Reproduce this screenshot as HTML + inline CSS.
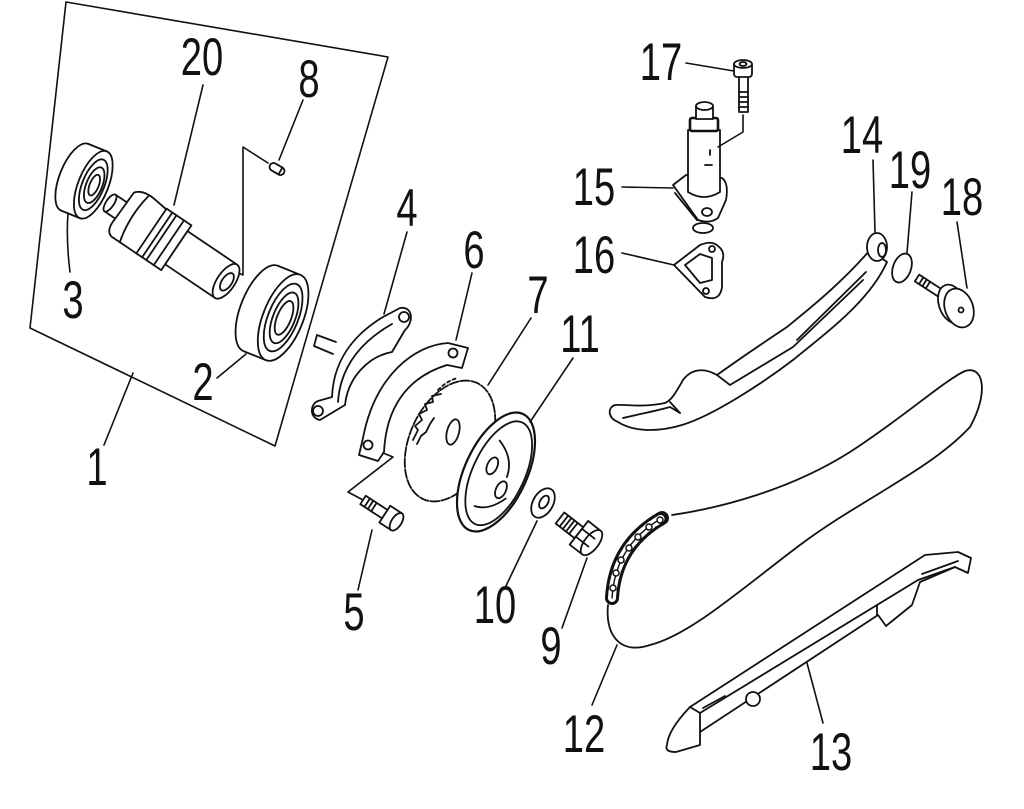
<!DOCTYPE html>
<html><head><meta charset="utf-8"><style>
html,body{margin:0;padding:0;background:#fff;}
svg{display:block;}
text{font-family:"Liberation Sans",sans-serif;font-size:53px;fill:#111;text-anchor:middle;}
</style></head><body>
<svg width="1024" height="809" viewBox="0 0 1024 809" xmlns="http://www.w3.org/2000/svg">
<rect width="1024" height="809" fill="#fff"/>
<g fill="none" stroke="#111" stroke-width="1.8" stroke-linejoin="round" stroke-linecap="round">

<!-- Frame of part 1 -->
<polygon points="66,2 388,57 275,446 30,328" stroke-width="1.6"/>
<line x1="133" y1="373" x2="104" y2="445" stroke-width="1.6"/>

<!-- Leaders in box -->
<line x1="203" y1="85" x2="174" y2="205" stroke-width="1.6"/>
<line x1="303" y1="100" x2="279" y2="160" stroke-width="1.6"/>
<polyline points="268,163 243,147 243,275 236,272" stroke-width="1.6"/>
<path d="M68,213 Q66,240 70,272" stroke-width="1.6"/>
<line x1="217" y1="378" x2="246" y2="354" stroke-width="1.6"/>

<!-- pin 8 -->
<g transform="translate(277,169) rotate(30)">
<rect x="-8" y="-4" width="16" height="8" rx="4" fill="#fff"/>
<line x1="4" y1="-4" x2="4" y2="4"/>
</g>

<!-- Bearing 3 -->
<g transform="translate(84,181) rotate(22)">
<ellipse cx="-10" cy="0" rx="15" ry="36" fill="#fff"/>
<rect x="-10" y="-36" width="20" height="72" fill="#fff" stroke="none"/>
<line x1="-10" y1="-36" x2="10" y2="-36"/>
<line x1="-10" y1="36" x2="10" y2="36"/>
<ellipse cx="10" cy="0" rx="15" ry="36" fill="#fff"/>
<ellipse cx="10" cy="0" rx="11" ry="27"/>
<ellipse cx="11" cy="0" rx="8" ry="19"/>
<ellipse cx="11" cy="0" rx="4.5" ry="11"/>
</g>

<!-- Camshaft 20 -->
<g transform="translate(110,203) rotate(34)">
<rect x="0" y="-10" width="16" height="20" fill="#fff"/>
<ellipse cx="0" cy="0" rx="4" ry="10" fill="#fff"/>
<path d="M14,-22 Q20,-30 36,-28 L52,-26 L52,27 L20,27 Q12,25 13,12 Z" fill="#fff"/>
<path d="M28,-27 Q23,0 30,27"/>
<rect x="50" y="-27" width="30" height="54" fill="#fff"/>
<line x1="57" y1="-27" x2="57" y2="27"/>
<line x1="62" y1="-27" x2="62" y2="27"/>
<line x1="71" y1="-27" x2="71" y2="27"/>
<rect x="80" y="-20" width="60" height="40" fill="#fff"/>
<ellipse cx="140" cy="0" rx="9" ry="20" fill="#fff"/>
<ellipse cx="141" cy="0" rx="5" ry="10"/>
</g>

<!-- Bearing 2 -->
<g transform="translate(272,313) rotate(22)">
<ellipse cx="-12" cy="0" rx="20" ry="46" fill="#fff"/>
<rect x="-12" y="-46" width="24" height="92" fill="#fff" stroke="none"/>
<line x1="-12" y1="-46" x2="12" y2="-46"/>
<line x1="-12" y1="46" x2="12" y2="46"/>
<ellipse cx="12" cy="0" rx="20" ry="46" fill="#fff"/>
<ellipse cx="12" cy="0" rx="15" ry="36"/>
<ellipse cx="13" cy="0" rx="11" ry="27"/>
<ellipse cx="13" cy="0" rx="7" ry="18"/>
</g>

<!-- Part 4 bracket -->
<path d="M333,354 L314,346 L317,335 L336,342" fill="#fff"/>
<path d="M320,420 C309,418 310,404 318,401 L332,397 C333,370 345,340 383,317 L400,308 C413,306 414,322 405,330 L392,352 C370,356 348,376 345,405 Z" fill="#fff"/>
<path d="M338,402 C340,372 355,345 392,324"/>
<circle cx="318" cy="411" r="5"/>
<circle cx="404" cy="317" r="5"/>
<line x1="407" y1="232" x2="384" y2="314" stroke-width="1.6"/>

<!-- Part 6 ring -->
<path d="M448,343 C415,345 375,375 363,438 L359,455 L378,461 L384,452 C386,410 405,378 447,365 L462,368 L468,348 Z" fill="#fff"/>
<circle cx="453" cy="353" r="4.5"/>
<circle cx="368" cy="445" r="4.5"/>
<line x1="472" y1="273" x2="456" y2="340" stroke-width="1.6"/>
<polyline points="383,453 393,457 348,492 363,500" stroke-width="1.6"/>

<!-- Bolt 5 -->
<g transform="translate(363,500) rotate(33)">
<rect x="0" y="-5" width="26" height="10" fill="#fff"/>
<line x1="5" y1="-5" x2="5" y2="5"/><line x1="9" y1="-5" x2="9" y2="5"/><line x1="13" y1="-5" x2="13" y2="5"/>
<rect x="26" y="-10" width="14" height="20" fill="#fff"/>
<ellipse cx="40" cy="0" rx="5" ry="10" fill="#fff"/>
</g>
<line x1="358" y1="590" x2="372" y2="530" stroke-width="1.6"/>

<!-- Part 7 disc -->
<ellipse cx="450" cy="441" rx="40" ry="64" transform="rotate(25 450 441)" fill="#fff" stroke-dasharray="9 2"/>
<polyline points="413,440 418,430 415,426 422,420 419,414 427,410 425,404 433,402 432,396 441,394"/>
<polyline points="417,444 421,436 426,432 430,424 434,418"/>
<ellipse cx="453" cy="432" rx="6" ry="13" transform="rotate(15 453 432)"/>
<path d="M438,390 Q448,380 458,378" stroke-dasharray="3 3"/>
<line x1="531" y1="318" x2="488" y2="385" stroke-width="1.6"/>

<!-- Part 11 plate -->
<g transform="translate(496,472) rotate(25)">
<ellipse cx="0" cy="0" rx="31" ry="64" fill="#fff" stroke-width="2.2"/>
<ellipse cx="3" cy="0" rx="26" ry="56"/>
<ellipse cx="-6" cy="-4" rx="5" ry="9"/>
<ellipse cx="12" cy="14" rx="5" ry="9"/>
<path d="M-10,-30 Q10,-20 12,0"/>
<path d="M-5,40 Q10,38 20,20"/>
</g>
<line x1="573" y1="358" x2="530" y2="422" stroke-width="1.6"/>

<!-- Washer 10 -->
<ellipse cx="543" cy="503" rx="10" ry="16" transform="rotate(30 543 503)" fill="#fff"/>
<ellipse cx="544" cy="502" rx="4" ry="7" transform="rotate(30 544 502)"/>
<line x1="505" y1="588" x2="537" y2="521" stroke-width="1.6"/>

<!-- Bolt 9 -->
<g transform="translate(560,518) rotate(38)">
<rect x="0" y="-7" width="24" height="14" fill="#fff"/>
<line x1="5" y1="-7" x2="5" y2="7"/><line x1="9" y1="-7" x2="9" y2="7"/><line x1="13" y1="-7" x2="13" y2="7"/><line x1="17" y1="-7" x2="17" y2="7"/>
<rect x="24" y="-15" width="16" height="30" fill="#fff"/>
<ellipse cx="40" cy="0" rx="7" ry="15" fill="#fff"/>
<line x1="24" y1="-5" x2="40" y2="-5"/><line x1="24" y1="5" x2="40" y2="5"/>
</g>
<line x1="562" y1="628" x2="587" y2="558" stroke-width="1.6"/>

<!-- Chain 12 -->
<path d="M672,515 C720,508 790,490 850,452 C900,420 945,380 965,371 C985,365 988,395 970,427 C930,470 860,500 800,545 C740,590 690,635 650,645 C620,655 605,635 608,605"/>
<path d="M612,598 Q615,545 662,518" stroke-width="14"/>
<path d="M612,598 Q615,545 662,518" stroke="#fff" stroke-width="8" stroke-dasharray="7 3"/>
<path d="M612,598 Q615,545 662,518" stroke-width="1.4"/>
<g fill="#fff" stroke-width="1.5">
<circle cx="613" cy="588" r="3"/><circle cx="616" cy="573" r="3"/><circle cx="621" cy="560" r="3"/><circle cx="629" cy="548" r="3"/><circle cx="638" cy="537" r="3"/><circle cx="649" cy="527" r="3"/><circle cx="660" cy="520" r="3"/>
</g>
<line x1="617" y1="645" x2="592" y2="705" stroke-width="1.6"/>

<!-- Guide 13 -->
<path d="M667,745 Q668,730 690,707 L925,555 L958,552 L971,558 L968,573 L955,567 L920,582 L912,605 L886,626 L878,615 L700,732 L700,745 L676,752 Q664,752 667,745 Z" fill="#fff"/>
<line x1="700" y1="713" x2="918" y2="580"/>
<polyline points="690,707 700,713 700,732"/>
<line x1="918" y1="580" x2="955" y2="567"/>
<line x1="922" y1="574" x2="958" y2="561"/>
<line x1="877" y1="615" x2="877" y2="605"/>
<line x1="703" y1="708" x2="725" y2="696"/>
<circle cx="753" cy="699" r="7" fill="#fff"/>
<line x1="823" y1="723" x2="807" y2="663" stroke-width="1.6"/>

<!-- Arm 14 -->
<path d="M870,250 C840,285 805,312 787,327 C760,345 735,362 717,375 C705,368 692,368 683,380 C676,392 672,400 665,403 C640,408 625,404 615,405 C607,408 608,418 618,422 C632,431 655,433 682,425 C712,416 760,385 793,360 C830,330 870,300 887,262 Z" fill="#fff"/>
<path d="M717,375 L730,385 L793,347 L863,280"/>
<path d="M797,340 L866,272"/>
<path d="M623,418 C640,414 660,410 670,407 L680,413"/>
<path d="M670,402 L680,413"/>
<ellipse cx="877" cy="247" rx="10" ry="14" fill="#fff"/>
<ellipse cx="882" cy="250" rx="4" ry="7"/>
<line x1="873" y1="160" x2="875" y2="232" stroke-width="1.6"/>

<!-- O-ring 19 -->
<ellipse cx="902" cy="268" rx="9" ry="15" transform="rotate(20 902 268)"/>
<line x1="912" y1="192" x2="907" y2="253" stroke-width="1.6"/>

<!-- Pin 18 -->
<g transform="translate(917,278) rotate(33)">
<rect x="0" y="-4" width="28" height="8" fill="#fff"/>
<line x1="5" y1="-4" x2="5" y2="4"/><line x1="9" y1="-4" x2="9" y2="4"/><line x1="13" y1="-4" x2="13" y2="4"/>
</g>
<ellipse cx="952" cy="304" rx="13" ry="20" transform="rotate(-20 952 304)" fill="#fff"/>
<ellipse cx="959" cy="308" rx="14" ry="20" transform="rotate(-20 959 308)" fill="#fff"/>
<circle cx="961" cy="310" r="2.5"/>
<line x1="957" y1="222" x2="967" y2="288" stroke-width="1.6"/>

<!-- Tensioner 15 -->
<path d="M673,185 L686,175 L722,178 Q729,183 726,200 L718,218 Q710,224 698,220 Z" fill="#fff"/>
<path d="M675,193 L697,220"/>
<ellipse cx="703" cy="228" rx="10" ry="5" fill="#fff"/>
<ellipse cx="707" cy="212" rx="5" ry="4"/>
<path d="M688,130 L688,192 Q704,202 720,192 L720,130 Z" fill="#fff"/>
<rect x="690" y="118" width="28" height="13" rx="2" fill="#fff" stroke-width="2.6"/>
<rect x="696" y="106" width="17" height="13" fill="#fff"/>
<ellipse cx="704.5" cy="106" rx="8.5" ry="4" fill="#fff"/>
<line x1="710" y1="150" x2="710" y2="155"/><line x1="705" y1="165" x2="712" y2="165"/>
<line x1="622" y1="187" x2="673" y2="188" stroke-width="1.6"/>
<polyline points="743,115 743,132 718,147" stroke-width="1.6"/>

<!-- Bolt 17 -->
<rect x="739" y="76" width="9" height="36" fill="#fff"/>
<line x1="739" y1="92" x2="748" y2="92"/><line x1="739" y1="97" x2="748" y2="97"/><line x1="739" y1="102" x2="748" y2="102"/><line x1="739" y1="107" x2="748" y2="107"/>
<rect x="734" y="62" width="18" height="15" rx="3" fill="#fff"/>
<ellipse cx="743" cy="64" rx="9" ry="4" fill="#fff"/>
<ellipse cx="743" cy="64" rx="3.5" ry="2"/>
<line x1="686" y1="63" x2="734" y2="71" stroke-width="1.6"/>

<!-- Gasket 16 -->
<path d="M674,265 L700,245 Q712,240 718,246 Q726,252 722,262 L722,287 Q720,302 705,297 Z" fill="#fff"/>
<path d="M685,265 L700,254 L712,258 L712,280 L700,283 Z"/>
<circle cx="712" cy="249" r="3"/>
<circle cx="706" cy="291" r="3"/>
<line x1="622" y1="253" x2="674" y2="265" stroke-width="1.6"/>
</g>

<!-- Labels -->
<text transform="translate(202,75) scale(0.72,1)">20</text>
<text transform="translate(309,97) scale(0.72,1)">8</text>
<text transform="translate(73,318) scale(0.72,1)">3</text>
<text transform="translate(203,400) scale(0.72,1)">2</text>
<text transform="translate(97,485) scale(0.72,1)">1</text>
<text transform="translate(407,226) scale(0.72,1)">4</text>
<text transform="translate(474,268) scale(0.72,1)">6</text>
<text transform="translate(538,313) scale(0.72,1)">7</text>
<text transform="translate(580,352) scale(0.72,1)">11</text>
<text transform="translate(354,630) scale(0.72,1)">5</text>
<text transform="translate(495,623) scale(0.72,1)">10</text>
<text transform="translate(551,664) scale(0.72,1)">9</text>
<text transform="translate(584,752) scale(0.72,1)">12</text>
<text transform="translate(831,770) scale(0.72,1)">13</text>
<text transform="translate(661,80) scale(0.72,1)">17</text>
<text transform="translate(594,205) scale(0.72,1)">15</text>
<text transform="translate(594,273) scale(0.72,1)">16</text>
<text transform="translate(862,153) scale(0.72,1)">14</text>
<text transform="translate(910,188) scale(0.72,1)">19</text>
<text transform="translate(962,215) scale(0.72,1)">18</text>
</svg>
</body></html>
